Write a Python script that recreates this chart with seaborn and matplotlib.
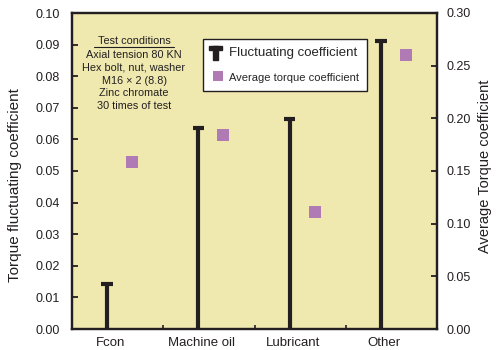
import matplotlib
matplotlib.use("Agg")
import matplotlib.pyplot as plt
import matplotlib.patches as mpatches
from matplotlib.lines import Line2D
import numpy as np
import pandas as pd
import seaborn as sns

# Data
categories = ["Fcon", "Machine oil", "Lubricant", "Other"]
fluctuating = [0.0143, 0.0637, 0.0664, 0.0911]
avg_torque = [0.159, 0.184, 0.111, 0.260]
left_ticks = [0.00, 0.01, 0.02, 0.03, 0.04, 0.05, 0.06, 0.07, 0.08, 0.09, 0.10]
right_ticks = [0.00, 0.05, 0.10, 0.15, 0.20, 0.25, 0.30]
conditions = ["Axial tension 80 KN", "Hex bolt, nut, washer",
              "M16 \u00d7 2 (8.8)", "Zinc chromate", "30 times of test"]

sns.set_theme(style="white")
plt.rcParams["font.family"] = ["Liberation Sans", "DejaVu Sans"]

INK = "#231F20"
BG = "#EFE9B0"
PURPLE = "#B07AB5"

idx = np.arange(len(categories))
stem_x = idx + 0.385
sq_x = idx + 0.66
df = pd.DataFrame({"category": categories, "stem_x": stem_x, "sq_x": sq_x,
                   "fluct": fluctuating, "avg": avg_torque})

fig = plt.figure(figsize=(4.99, 3.5), dpi=100)
ax = fig.add_axes([72 / 499, 1 - 329 / 350, 365 / 499, 316 / 350])
ax.set_facecolor(BG)
ax2 = ax.twinx()
ax2.patch.set_visible(False)

# Stems with top caps
ax.vlines(df["stem_x"], 0, df["fluct"], color=INK, linewidth=3.0, zorder=3)
ax.hlines(df["fluct"], df["stem_x"] - 0.062, df["stem_x"] + 0.062,
          color=INK, linewidth=3.0, zorder=3)
for ln in ax.collections:
    ln.set_capstyle("butt")

# Average torque squares
sns.scatterplot(data=df, x="sq_x", y="avg", ax=ax2, marker="s", s=68,
                color=PURPLE, linewidth=0, zorder=4, legend=False)

ax.set_xlim(0, 4)
ax.set_ylim(0, 0.10)
ax2.set_ylim(0, 0.30)
ax2.set_xlim(0, 4)

ax.set_yticks(left_ticks)
ax.set_yticklabels([f"{t:.2f}" for t in left_ticks])
ax2.set_yticks(right_ticks)
ax2.set_yticklabels([f"{t:.2f}" for t in right_ticks])
ax.set_xticks(idx + 0.42)
ax.set_xticklabels(categories)
ax.set_xticks([1, 2, 3], minor=True)

ax.tick_params(axis="y", direction="in", length=4, width=1.3, color=INK,
               labelsize=9, labelcolor=INK, pad=9)
ax2.tick_params(axis="y", direction="in", length=4, width=1.3, color=INK,
                labelsize=9, labelcolor=INK, pad=7)
ax.tick_params(axis="x", which="major", length=0, labelsize=9.5,
               labelcolor=INK, pad=6)
ax.tick_params(axis="x", which="minor", direction="in", length=3, width=1.2,
               color=INK, bottom=True)

ax.set_xlabel("")
ax2.set_xlabel("")
ax.set_ylabel("Torque fluctuating coefficient", fontsize=11, color=INK)
ax.yaxis.set_label_coords(-0.137, 0.455)
ax2.set_ylabel("Average Torque coefficient", fontsize=10.5, color=INK)
ax2.yaxis.set_label_coords(1.112, 0.515)

for a in (ax, ax2):
    for s in a.spines.values():
        s.set_color(INK)
        s.set_linewidth(1.6)

# Test-condition note
nx = (134 - 72) / 365
ax.text(nx, (329 - 41) / 316, "Test conditions", transform=ax.transAxes,
        ha="center", va="center", fontsize=7.8, color=INK)
ax.add_line(Line2D([(94 - 72) / 365, (174 - 72) / 365],
                   [(329 - 46.5) / 316] * 2, transform=ax.transAxes,
                   color=INK, linewidth=0.8))
for i, line in enumerate(conditions):
    ax.text(nx, (329 - 54.5 - 13 * i) / 316, line, transform=ax.transAxes,
            ha="center", va="center", fontsize=7.8, color=INK)


class THandler:
    def legend_artist(self, legend, orig_handle, fontsize, handlebox):
        x0, y0 = handlebox.xdescent, handlebox.ydescent
        w, h = handlebox.width, handlebox.height
        cx = x0 + 0.3 * w
        tr = handlebox.get_transform()
        stem = mpatches.Rectangle((cx - 1.7, y0 - 2.5), 3.4, h + 3, color=INK,
                                  transform=tr)
        cap = mpatches.Rectangle((cx - 4.5, y0 + h - 2.5), 9, 3.5, color=INK,
                                 transform=tr)
        handlebox.add_artist(stem)
        handlebox.add_artist(cap)
        return stem


t_handle = mpatches.Patch(color=INK)
sq_handle = Line2D([], [], marker="s", linestyle="none", markersize=6.5,
                   markerfacecolor=PURPLE, markeredgewidth=0)
leg = ax2.legend([t_handle, sq_handle],
                 ["Fluctuating coefficient", "Average torque coefficient"],
                 handler_map={mpatches.Patch: THandler()},
                 loc="upper left",
                 bbox_to_anchor=((203 - 72) / 365, (329 - 39) / 316),
                 borderaxespad=0, frameon=True, fancybox=False,
                 framealpha=1, edgecolor=INK, facecolor="white",
                 handlelength=1.1, handletextpad=0.3, labelspacing=0.95,
                 borderpad=0.6, fontsize=9.5)
leg.get_frame().set_linewidth(1.0)
leg.get_texts()[1].set_fontsize(8)

fig.savefig("out.png", dpi=100)
